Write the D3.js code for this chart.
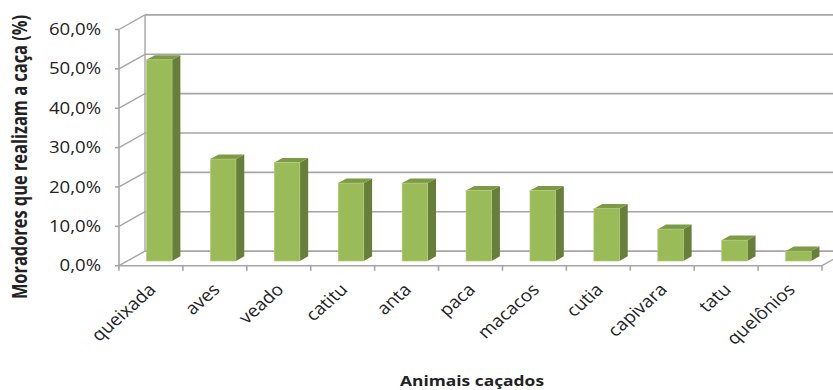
<!DOCTYPE html>
<html>
<head>
<meta charset="utf-8">
<script src="https://cdn.jsdelivr.net/npm/d3@7"></script>
<style>
  html, body { margin: 0; padding: 0; background: #fff; }
  svg { display: block; }
  text { font-family: "Open Sans", "Noto Sans", sans-serif; fill: #222; }
</style>
</head>
<body>
<svg id="chart" width="833" height="390"></svg>
<script>
// Animals hunted and share of residents who hunt them
const categories = ["queixada", "aves", "veado", "catitu", "anta", "paca", "macacos", "cutia", "capivara", "tatu", "quelônios"];
const values = [0.511, 0.259, 0.250, 0.198, 0.198, 0.179, 0.179, 0.133, 0.081, 0.053, 0.025];
const yTicks = [0, 0.1, 0.2, 0.3, 0.4, 0.5, 0.6];
const yTitle = "Moradores que realizam a caça (%)";
const xTitle = "Animais caçados";

const svg = d3.select("#chart");

// Front plane of the 3D box
const x0 = 119, x1 = 822;
const yBase = 265.7, yTop = 29.5;
// Full depth of the box (back wall offset)
const DX = 26, DY = -14.6;
// Bars sit in the middle third of the depth
const f0 = 0.32, f1 = 0.64;
// Text is drawn slightly wide
const SX = 1.2;

const x = d3.scaleBand().domain(categories).range([x0, x1])
  .paddingInner(0.6).paddingOuter(0.3);
const step = x.step();
const y = d3.scaleLinear().domain([0, 0.6]).range([yBase, yTop]);

const fmt = v => d3.format(".1f")(v * 100).replace(".", ",") + "%";
const grid = "#a6a6a6";

const g = svg.append("g");

// Back wall gridlines
g.selectAll("line.back").data(yTicks).join("line")
  .attr("class", "back")
  .attr("x1", x0 + DX).attr("x2", x1 + DX)
  .attr("y1", d => y(d) + DY).attr("y2", d => y(d) + DY)
  .attr("stroke", grid).attr("stroke-width", 1.6);

// Side wall gridlines (diagonals)
g.selectAll("line.side").data(yTicks).join("line")
  .attr("class", "side")
  .attr("x1", x0).attr("x2", x0 + DX)
  .attr("y1", d => y(d)).attr("y2", d => y(d) + DY)
  .attr("stroke", grid).attr("stroke-width", 1.4);

// Back wall left edge
g.append("line")
  .attr("x1", x0 + DX).attr("x2", x0 + DX)
  .attr("y1", y(0.6) + DY).attr("y2", y(0) + DY)
  .attr("stroke", grid).attr("stroke-width", 1.4);

// Floor right edge
g.append("line")
  .attr("x1", x1).attr("x2", x1 + DX)
  .attr("y1", yBase).attr("y2", yBase + DY)
  .attr("stroke", grid).attr("stroke-width", 1.4);

// Front vertical axis with ticks
g.append("line")
  .attr("x1", x0).attr("x2", x0)
  .attr("y1", y(0.6)).attr("y2", yBase)
  .attr("stroke", grid).attr("stroke-width", 1.6);
g.selectAll("line.ytick").data(yTicks).join("line")
  .attr("class", "ytick")
  .attr("x1", x0 - 4).attr("x2", x0)
  .attr("y1", d => y(d)).attr("y2", d => y(d))
  .attr("stroke", grid).attr("stroke-width", 1.6);

// Front horizontal axis with category ticks
g.append("line")
  .attr("x1", x0).attr("x2", x1)
  .attr("y1", yBase).attr("y2", yBase)
  .attr("stroke", grid).attr("stroke-width", 1.6);
const boundaries = d3.range(categories.length + 1).map(i => x0 + i * step);
g.selectAll("line.xtick").data(boundaries).join("line")
  .attr("class", "xtick")
  .attr("x1", d => d).attr("x2", d => d)
  .attr("y1", yBase).attr("y2", yBase + 5)
  .attr("stroke", grid).attr("stroke-width", 1.6);

// Y tick labels
g.selectAll("text.ylab").data(yTicks).join("text")
  .attr("class", "ylab")
  .attr("transform", d => `translate(101,${y(d)}) scale(${SX},1)`)
  .attr("dy", "0.36em")
  .attr("text-anchor", "end")
  .attr("font-size", 15.5)
  .text(fmt);

// 3D bars
const bars = g.selectAll("g.bar").data(categories.map((c, i) => ({ c, v: values[i] })))
  .join("g").attr("class", "bar");

const ax = DX * f0, ay = DY * f0;               // front face offset
const sx = DX * (f1 - f0), sy = DY * (f1 - f0); // bar depth

bars.each(function (d) {
  const b = d3.select(this);
  const L = x(d.c) + ax, R = L + x.bandwidth();
  const T = y(d.v) + ay, B = y(0) + ay;
  // side face
  b.append("path")
    .attr("d", `M${R},${T}L${R + sx},${T + sy}L${R + sx},${B + sy}L${R},${B}Z`)
    .attr("fill", "#66803a");
  // top face
  b.append("path")
    .attr("d", `M${L},${T}L${L + sx},${T + sy}L${R + sx},${T + sy}L${R},${T}Z`)
    .attr("fill", "#7d9a44");
  // front face
  b.append("rect")
    .attr("x", L).attr("y", T)
    .attr("width", R - L).attr("height", B - T)
    .attr("fill", "#9bbb59")
    .attr("stroke", "#b3cc7e").attr("stroke-width", 0.6);
});

// Category labels, rotated
g.selectAll("text.xlab").data(categories).join("text")
  .attr("class", "xlab")
  .attr("font-size", 17)
  .attr("text-anchor", "end")
  .attr("transform", d => `translate(${x(d) + x.bandwidth() / 2 + 6},${yBase + 25}) scale(1.12,1) rotate(-45)`)
  .text(d => d);

// Axis titles
svg.append("text")
  .attr("font-size", 16.4)
  .attr("font-weight", "bold")
  .attr("text-anchor", "middle")
  .attr("transform", `translate(27,157) scale(1.25,1) rotate(-90)`)
  .text(yTitle);

svg.append("text")
  .attr("transform", `translate(472,385.5) scale(${SX},1)`)
  .attr("font-size", 14.5)
  .attr("font-weight", "bold")
  .attr("text-anchor", "middle")
  .text(xTitle);
</script>
</body>
</html>
